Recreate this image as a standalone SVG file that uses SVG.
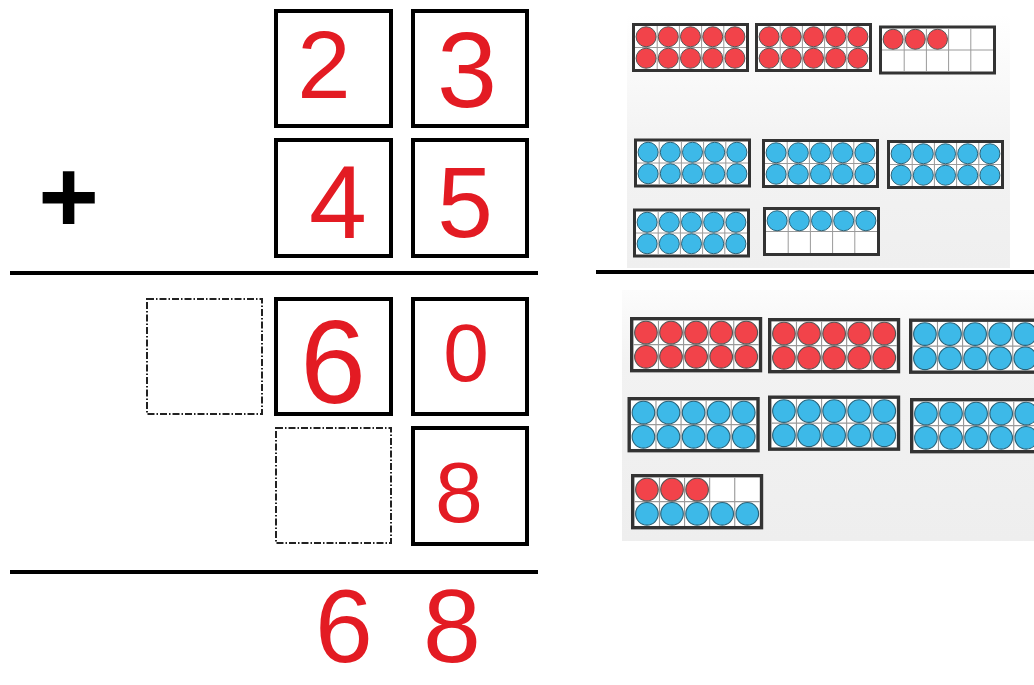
<svg xmlns="http://www.w3.org/2000/svg" xmlns:xlink="http://www.w3.org/1999/xlink" width="1034" height="685" viewBox="0 0 1034 685">
<style>
.box{fill:#fff;stroke:#000;stroke-width:4}
.dash{fill:#fff;stroke:#222;stroke-width:2;stroke-dasharray:7 2 1.5 2}
.rule{stroke:#000;stroke-width:4}
.dig{font-family:"Liberation Sans",Arial,sans-serif;fill:#e31b23;text-anchor:middle}
.plus{font-family:"Liberation Sans",Arial,sans-serif;font-weight:bold;fill:#000;text-anchor:middle}
.tfo{fill:#fff;stroke:#333;stroke-width:3}
.grid{stroke:#9a9a9a;stroke-width:1}
.red{fill:#f2434a;stroke:#555;stroke-width:1}
.blue{fill:#3db9e8;stroke:#2b6278;stroke-width:1}
</style>
<defs>
<linearGradient id="bg1" x1="0" y1="0" x2="0" y2="1"><stop offset="0" stop-color="#ffffff"/><stop offset="0.5" stop-color="#f3f3f3"/><stop offset="1" stop-color="#efefef"/></linearGradient>
<linearGradient id="bg2" x1="0" y1="0" x2="0" y2="1"><stop offset="0" stop-color="#fcfcfc"/><stop offset="0.3" stop-color="#f2f2f2"/><stop offset="1" stop-color="#eeeeee"/></linearGradient>
<g id="tf">
<rect class="tfo" x="1.5" y="1.5" width="114" height="46"/>
<path class="grid" d="M25.2 3V46M47.4 3V46M69.6 3V46M91.8 3V46M3 24.5H114"/>
</g>
<circle id="rc" class="red" r="10"/>
<circle id="bc" class="blue" r="10"/>
<g id="rowR"><use xlink:href="#rc" x="14.1"/><use xlink:href="#rc" x="36.3"/><use xlink:href="#rc" x="58.5"/><use xlink:href="#rc" x="80.7"/><use xlink:href="#rc" x="102.9"/></g>
<g id="rowB"><use xlink:href="#bc" x="14.1"/><use xlink:href="#bc" x="36.3"/><use xlink:href="#bc" x="58.5"/><use xlink:href="#bc" x="80.7"/><use xlink:href="#bc" x="102.9"/></g>
<g id="row3R"><use xlink:href="#rc" x="14.1"/><use xlink:href="#rc" x="36.3"/><use xlink:href="#rc" x="58.5"/></g>
<g id="fullR"><use xlink:href="#tf"/><use xlink:href="#rowR" y="13.75"/><use xlink:href="#rowR" y="35.25"/></g>
<g id="fullB"><use xlink:href="#tf"/><use xlink:href="#rowB" y="13.75"/><use xlink:href="#rowB" y="35.25"/></g>
</defs>
<rect width="1034" height="685" fill="#fff"/>

<g id="rules">
<line class="rule" x1="10" y1="273" x2="538" y2="273"/>
<line class="rule" x1="596" y1="272" x2="1034" y2="272"/>
<line class="rule" x1="10" y1="572" x2="538" y2="572"/>
</g>

<g id="plus-sign"><text class="plus" x="68.5" y="232" font-size="104">+</text></g>

<g id="box-2"><rect class="box" x="276" y="11" width="115" height="115"/><text class="dig" x="324" y="98" font-size="96">2</text></g>
<g id="box-3"><rect class="box" x="413" y="11" width="114" height="115"/><text class="dig" x="467" y="107" font-size="108">3</text></g>
<g id="box-4"><rect class="box" x="276" y="140" width="115" height="116"/><text class="dig" x="338" y="238" font-size="104">4</text></g>
<g id="box-5"><rect class="box" x="413" y="140" width="114" height="116"/><text class="dig" x="465" y="237" font-size="100">5</text></g>
<g id="box-empty-1"><rect class="dash" x="147" y="299" width="115" height="115"/></g>
<g id="box-6"><rect class="box" x="276" y="299" width="115" height="115"/><text class="dig" x="333" y="403" font-size="118">6</text></g>
<g id="box-0"><rect class="box" x="413" y="299" width="114" height="115"/><text class="dig" x="466" y="381" font-size="82">0</text></g>
<g id="box-empty-2"><rect class="dash" x="276" y="428" width="115" height="115"/></g>
<g id="box-8"><rect class="box" x="413" y="428" width="114" height="116"/><text class="dig" x="459" y="522" font-size="86">8</text></g>
<g id="answer"><text class="dig" x="344" y="662" font-size="104">6</text><text class="dig" x="452" y="662" font-size="104">8</text></g>

<g id="panel-top">
<rect x="627" y="14" width="383" height="254" fill="url(#bg1)"/>
<use xlink:href="#fullR" transform="translate(632,23)"/>
<use xlink:href="#fullR" transform="translate(755,23)"/>
<g transform="translate(879,25.5)"><use xlink:href="#tf"/><use xlink:href="#row3R" y="13.75"/></g>
<use xlink:href="#fullB" transform="translate(634,138.5)"/>
<use xlink:href="#fullB" transform="translate(762,139)"/>
<use xlink:href="#fullB" transform="translate(887,140)"/>
<use xlink:href="#fullB" transform="translate(633,208.5)"/>
<g transform="translate(763,207)"><use xlink:href="#tf"/><use xlink:href="#rowB" y="13.75"/></g>
</g>

<g id="panel-bottom">
<rect x="622" y="290" width="412" height="251" fill="url(#bg2)"/>
<use xlink:href="#fullR" transform="translate(630,317) scale(1.13)"/>
<use xlink:href="#fullR" transform="translate(768,318) scale(1.13)"/>
<use xlink:href="#fullB" transform="translate(909,318.5) scale(1.13)"/>
<use xlink:href="#fullB" transform="translate(627.5,397) scale(1.13)"/>
<use xlink:href="#fullB" transform="translate(768,395.5) scale(1.13)"/>
<use xlink:href="#fullB" transform="translate(910,398) scale(1.13)"/>
<g transform="translate(631,474) scale(1.13)"><use xlink:href="#tf"/><use xlink:href="#row3R" y="13.75"/><use xlink:href="#rowB" y="35.25"/></g>
</g>
</svg>
